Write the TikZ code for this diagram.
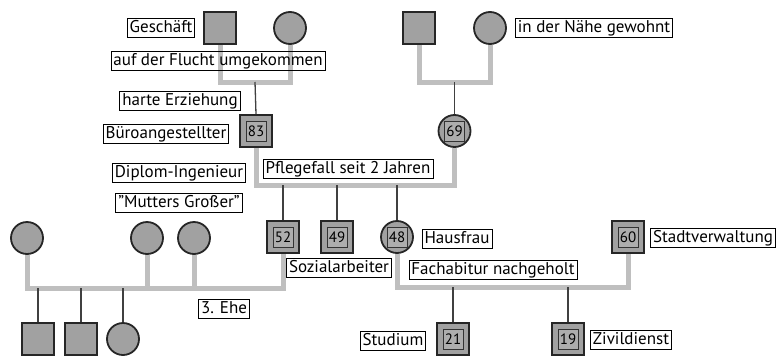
\documentclass[tikz,border=0pt]{standalone}
\usepackage{fontspec}
\setmainfont{PT Sans}
\begin{document}
\begin{tikzpicture}[x=1pt,y=-1pt,
  person/.style={draw=black!85, line width=1.8pt, fill=black!37, minimum size=32pt, inner sep=0pt},
  male/.style={person, rectangle},
  female/.style={person, circle},
  agebox/.style={rectangle, draw=black!80, line width=0.8pt, fill=black!32, minimum size=20pt, inner sep=0pt, font=\fontsize{15}{15}\selectfont},
  lab/.style={draw=black, line width=0.8pt, inner xsep=2.5pt, inner ysep=1.5pt, text height=12.5pt, text depth=4pt, font=\fontsize{17}{17}\selectfont},
  gl/.style={draw=black!25, line width=5pt, line join=miter},
  cl/.style={draw=black!75, line width=1.3pt}]
\useasboundingbox (0,0) rectangle (778,356);
% persons
\node[male] (gA) at (220,28) {};
\node[female] (gB) at (290,28) {};
\node[male] (gC) at (419,28) {};
\node[female] (gD) at (490,28) {};
\node[male] (p83) at (256,131) {};
\node[female] (p69) at (454.5,131) {};
\node[male] (s52) at (283,237) {};
\node[male] (s49) at (337,237) {};
\node[female] (d48) at (397,237) {};
\node[male] (h60) at (628,237) {};
\node[female] (w1) at (27,238) {};
\node[female] (w2) at (147,238) {};
\node[female] (w3) at (194,238) {};
\node[male] (c1) at (38,339) {};
\node[male] (c2) at (81,339) {};
\node[female] (c3) at (123,339) {};
\node[male] (k21) at (453,339) {};
\node[male] (k19) at (568,339) {};
% age boxes
\node[agebox] (a83) at (p83) {83};
\node[agebox] (a69) at (p69) {69};
\node[agebox] (a52) at (s52) {52};
\node[agebox] (a49) at (s49) {49};
\node[agebox] (a48) at (d48) {48};
\node[agebox] (a60) at (h60) {60};
\node[agebox] (a21) at (k21) {21};
\node[agebox] (a19) at (k19) {19};
% marriage coordinates
\coordinate (mA) at (255,82);
\coordinate (mB) at (454.5,82);
\coordinate (mC) at (300,185);
\coordinate (mD) at (150,288);
\coordinate (mE) at (500,287);
% marriage lines
\draw[gl] (gA.south) |- (mA) -| (gB.south);
\draw[gl] (gC.south) |- (mB) -| (gD.south);
\draw[gl] (p83.south) |- (mC) -| (p69.south);
\draw[gl] (w1.south) |- (mD) -| (s52.south);
\draw[gl] (w2.south) -- (w2.south |- mD);
\draw[gl] (w3.south) -- (w3.south |- mD);
\draw[gl] (d48.south) |- (mE) -| (h60.south);
% child lines
\draw[cl] (mA) -- (p83.north);
\draw[cl] (mB) -- (p69.north);
\draw[cl] (s52.north |- mC) -- (s52.north);
\draw[cl] (s49.north |- mC) -- (s49.north);
\draw[cl] (d48.north |- mC) -- (d48.north);
\draw[cl] (c1.north |- mD) -- (c1.north);
\draw[cl] (c2.north |- mD) -- (c2.north);
\draw[cl] (c3.north |- mD) -- (c3.north);
\draw[cl] (k21.north |- mE) -- (k21.north);
\draw[cl] (k19.north |- mE) -- (k19.north);
% labels
\node[lab] (l1) at (161,28) {Geschäft};
\node[lab] (l2) at (218,61) {auf der Flucht umgekommen};
\node[lab] (l3) at (180,101) {harte Erziehung};
\node[lab] (l4) at (166,134) {Büroangestellter};
\node[lab] (l5) at (179,173) {Diplom-Ingenieur};
\node[lab] (l6) at (179,203) {"Mutters Großer"};
\node[lab] (l7) at (348,169) {Pflegefall seit 2 Jahren};
\node[lab] (l8) at (594,28) {in der Nähe gewohnt};
\node[lab] (l9) at (339,268) {Sozialarbeiter};
\node[lab] (l10) at (457,239) {Hausfrau};
\node[lab] (l11) at (713,238) {Stadtverwaltung};
\node[lab] (l12) at (493,270) {Fachabitur nachgeholt};
\node[lab] (l13) at (224,309) {3. Ehe};
\node[lab] (l14) at (393,341) {Studium};
\node[lab] (l15) at (631,340) {Zivildienst};
\end{tikzpicture}
\end{document}
